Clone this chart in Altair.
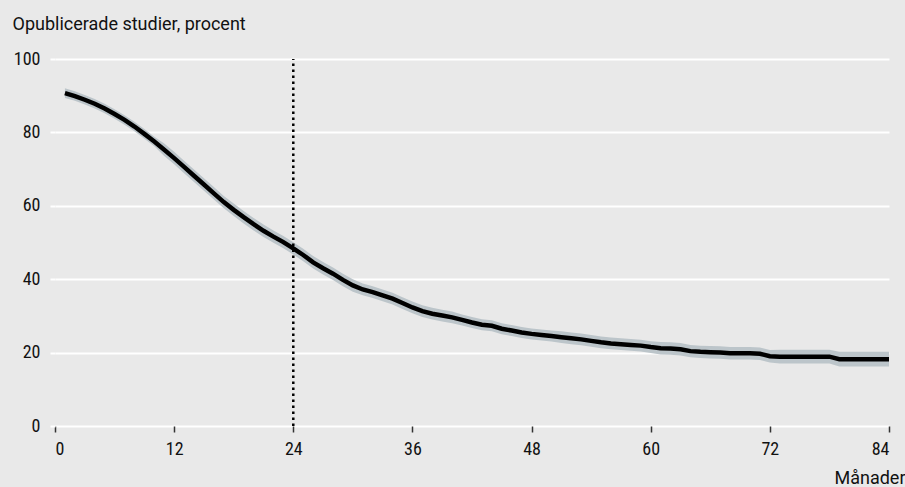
import altair as alt
import pandas as pd

# ---- data ----
months = list(range(1, 85))
share = [
    90.7, 89.9, 88.9, 87.8, 86.5, 85.0, 83.4, 81.6, 79.6, 77.5,
    75.3, 73.0, 70.6, 68.2, 65.8, 63.4, 61.0, 58.9, 56.9, 55.0,
    53.2, 51.6, 50.1, 48.4, 46.6, 44.6, 43.0, 41.5, 39.8, 38.3,
    37.2, 36.5, 35.6, 34.7, 33.5, 32.3, 31.3, 30.6, 30.1, 29.6,
    28.9, 28.2, 27.6, 27.3, 26.5, 26.0, 25.5, 25.1, 24.8, 24.5,
    24.2, 23.9, 23.6, 23.2, 22.8, 22.5, 22.3, 22.1, 21.9, 21.5,
    21.2, 21.1, 20.9, 20.4, 20.2, 20.1, 20.0, 19.8, 19.8, 19.8,
    19.7, 19.0, 18.9, 18.9, 18.9, 18.9, 18.9, 18.9, 18.2, 18.2,
    18.2, 18.2, 18.2, 18.2,
]
lower = [
    89.4, 88.6, 87.6, 86.5, 85.2, 83.7, 82.1, 80.3, 78.3, 76.2,
    73.6, 71.3, 68.9, 66.5, 64.1, 61.7, 59.3, 57.2, 55.2, 53.3,
    51.5, 49.9, 48.4, 46.7, 44.9, 42.9, 41.3, 39.8, 38.1, 36.6,
    35.6, 34.9, 34.0, 33.1, 31.9, 30.7, 29.7, 29.0, 28.5, 28.0,
    27.4, 26.7, 26.1, 25.8, 25.0, 24.5, 24.0, 23.6, 23.3, 23.0,
    22.6, 22.3, 22.0, 21.6, 21.2, 20.9, 20.7, 20.5, 20.3, 19.9,
    19.5, 19.4, 19.2, 18.7, 18.5, 18.4, 18.3, 18.1, 18.1, 18.1,
    18.0, 17.3, 17.0, 17.0, 17.0, 17.0, 17.0, 17.0, 16.2, 16.2,
    16.2, 16.2, 16.2, 16.2,
]
upper = [
    92.0, 91.2, 90.2, 89.1, 87.8, 86.3, 84.7, 82.9, 80.9, 78.8,
    77.0, 74.7, 72.3, 69.9, 67.5, 65.1, 62.7, 60.6, 58.6, 56.7,
    54.9, 53.3, 51.8, 50.1, 48.3, 46.3, 44.7, 43.2, 41.5, 40.0,
    38.8, 38.1, 37.2, 36.3, 35.1, 33.9, 32.9, 32.2, 31.7, 31.2,
    30.4, 29.7, 29.1, 28.8, 28.0, 27.5, 27.0, 26.6, 26.3, 26.0,
    25.8, 25.5, 25.2, 24.8, 24.4, 24.1, 23.9, 23.7, 23.5, 23.1,
    22.9, 22.8, 22.6, 22.1, 21.9, 21.8, 21.7, 21.5, 21.5, 21.5,
    21.4, 20.7, 20.8, 20.8, 20.8, 20.8, 20.8, 20.8, 20.2, 20.2,
    20.2, 20.2, 20.2, 20.2,
]
x_ticks = [0, 12, 24, 36, 48, 60, 72, 84]
y_ticks = [0, 20, 40, 60, 80, 100]
marker_month = 24
y_title = "Opublicerade studier, procent"
x_title = "Månader"

BG = "#e9e9e9"
TITLE_FONT = "Roboto"
LABEL_FONT = "Liberation Sans Narrow, Roboto Condensed, Arial Narrow, Roboto, sans-serif"

# page background (the reference has no white margin)
try:
    import altair.utils.html as _h
    _tpl = _h.HTML_TEMPLATE
    _orig_render = type(_tpl).render

    def _render(*args, **kwargs):
        html = _orig_render(_tpl, *args, **kwargs)
        return html.replace(
            "<style>",
            "<style>\n html, body { margin: 0; padding: 0; background: %s; overflow: hidden; }\n" % BG,
            1,
        )

    _tpl.render = _render
except Exception:
    pass

df = pd.DataFrame({"month": months, "share": share, "lo": lower, "hi": upper})

x_scale = alt.Scale(domain=[0, 84], nice=False, zero=False)
y_scale = alt.Scale(domain=[0, 100], nice=False)

x_axis = alt.Axis(
    values=x_ticks, grid=False, domain=False,
    ticks=True, tickSize=6, tickColor="#333333", tickWidth=1.5,
    labelPadding=8, labelFontSize=18, labelFont=LABEL_FONT, labelColor="#111111",
    title=x_title, titleFont=TITLE_FONT, titleFontSize=18, titleFontWeight="normal",
    titleColor="#111111", titleAnchor="end", titleAlign="right",
    titleBaseline="alphabetic", titleX=850, titleY=57,
)
y_axis = alt.Axis(
    values=y_ticks, grid=True, gridColor="white", gridWidth=2,
    domain=False, ticks=True, tickSize=5, tickColor="white", tickWidth=2,
    labelPadding=10, labelFontSize=18, labelFont=LABEL_FONT, labelColor="#111111",
    title=y_title, titleFont=TITLE_FONT, titleFontSize=18, titleFontWeight="normal",
    titleColor="#111111", titleAngle=0, titleAlign="left",
    titleBaseline="alphabetic", titleX=-43, titleY=-30,
)

base = alt.Chart(df)

band = base.mark_area(color="#bcc5ca", opacity=1).encode(
    x=alt.X("month:Q", scale=x_scale, axis=x_axis),
    y=alt.Y("lo:Q", scale=y_scale, axis=y_axis),
    y2="hi:Q",
)

line = base.mark_line(color="black", strokeWidth=4.5).encode(
    x=alt.X("month:Q", scale=x_scale),
    y=alt.Y("share:Q", scale=y_scale),
)

rule = alt.Chart(pd.DataFrame({"m": [marker_month], "y0": [0], "y1": [100]})).mark_rule(
    color="black", strokeWidth=2.5, strokeDash=[2.5, 3.5]
).encode(
    x=alt.X("m:Q", scale=x_scale),
    y=alt.Y("y0:Q", scale=y_scale),
    y2="y1:Q",
)

chart = (
    alt.layer(band, rule, line)
    .properties(
        width=834, height=367,
        autosize=alt.AutoSizeParams(type="none"),
        padding={"left": 55, "top": 59, "right": 16, "bottom": 61},
        background=BG,
    )
    .configure_view(stroke=None)
)

chart.save("out.html", embed_options={"renderer": "svg", "actions": False})
